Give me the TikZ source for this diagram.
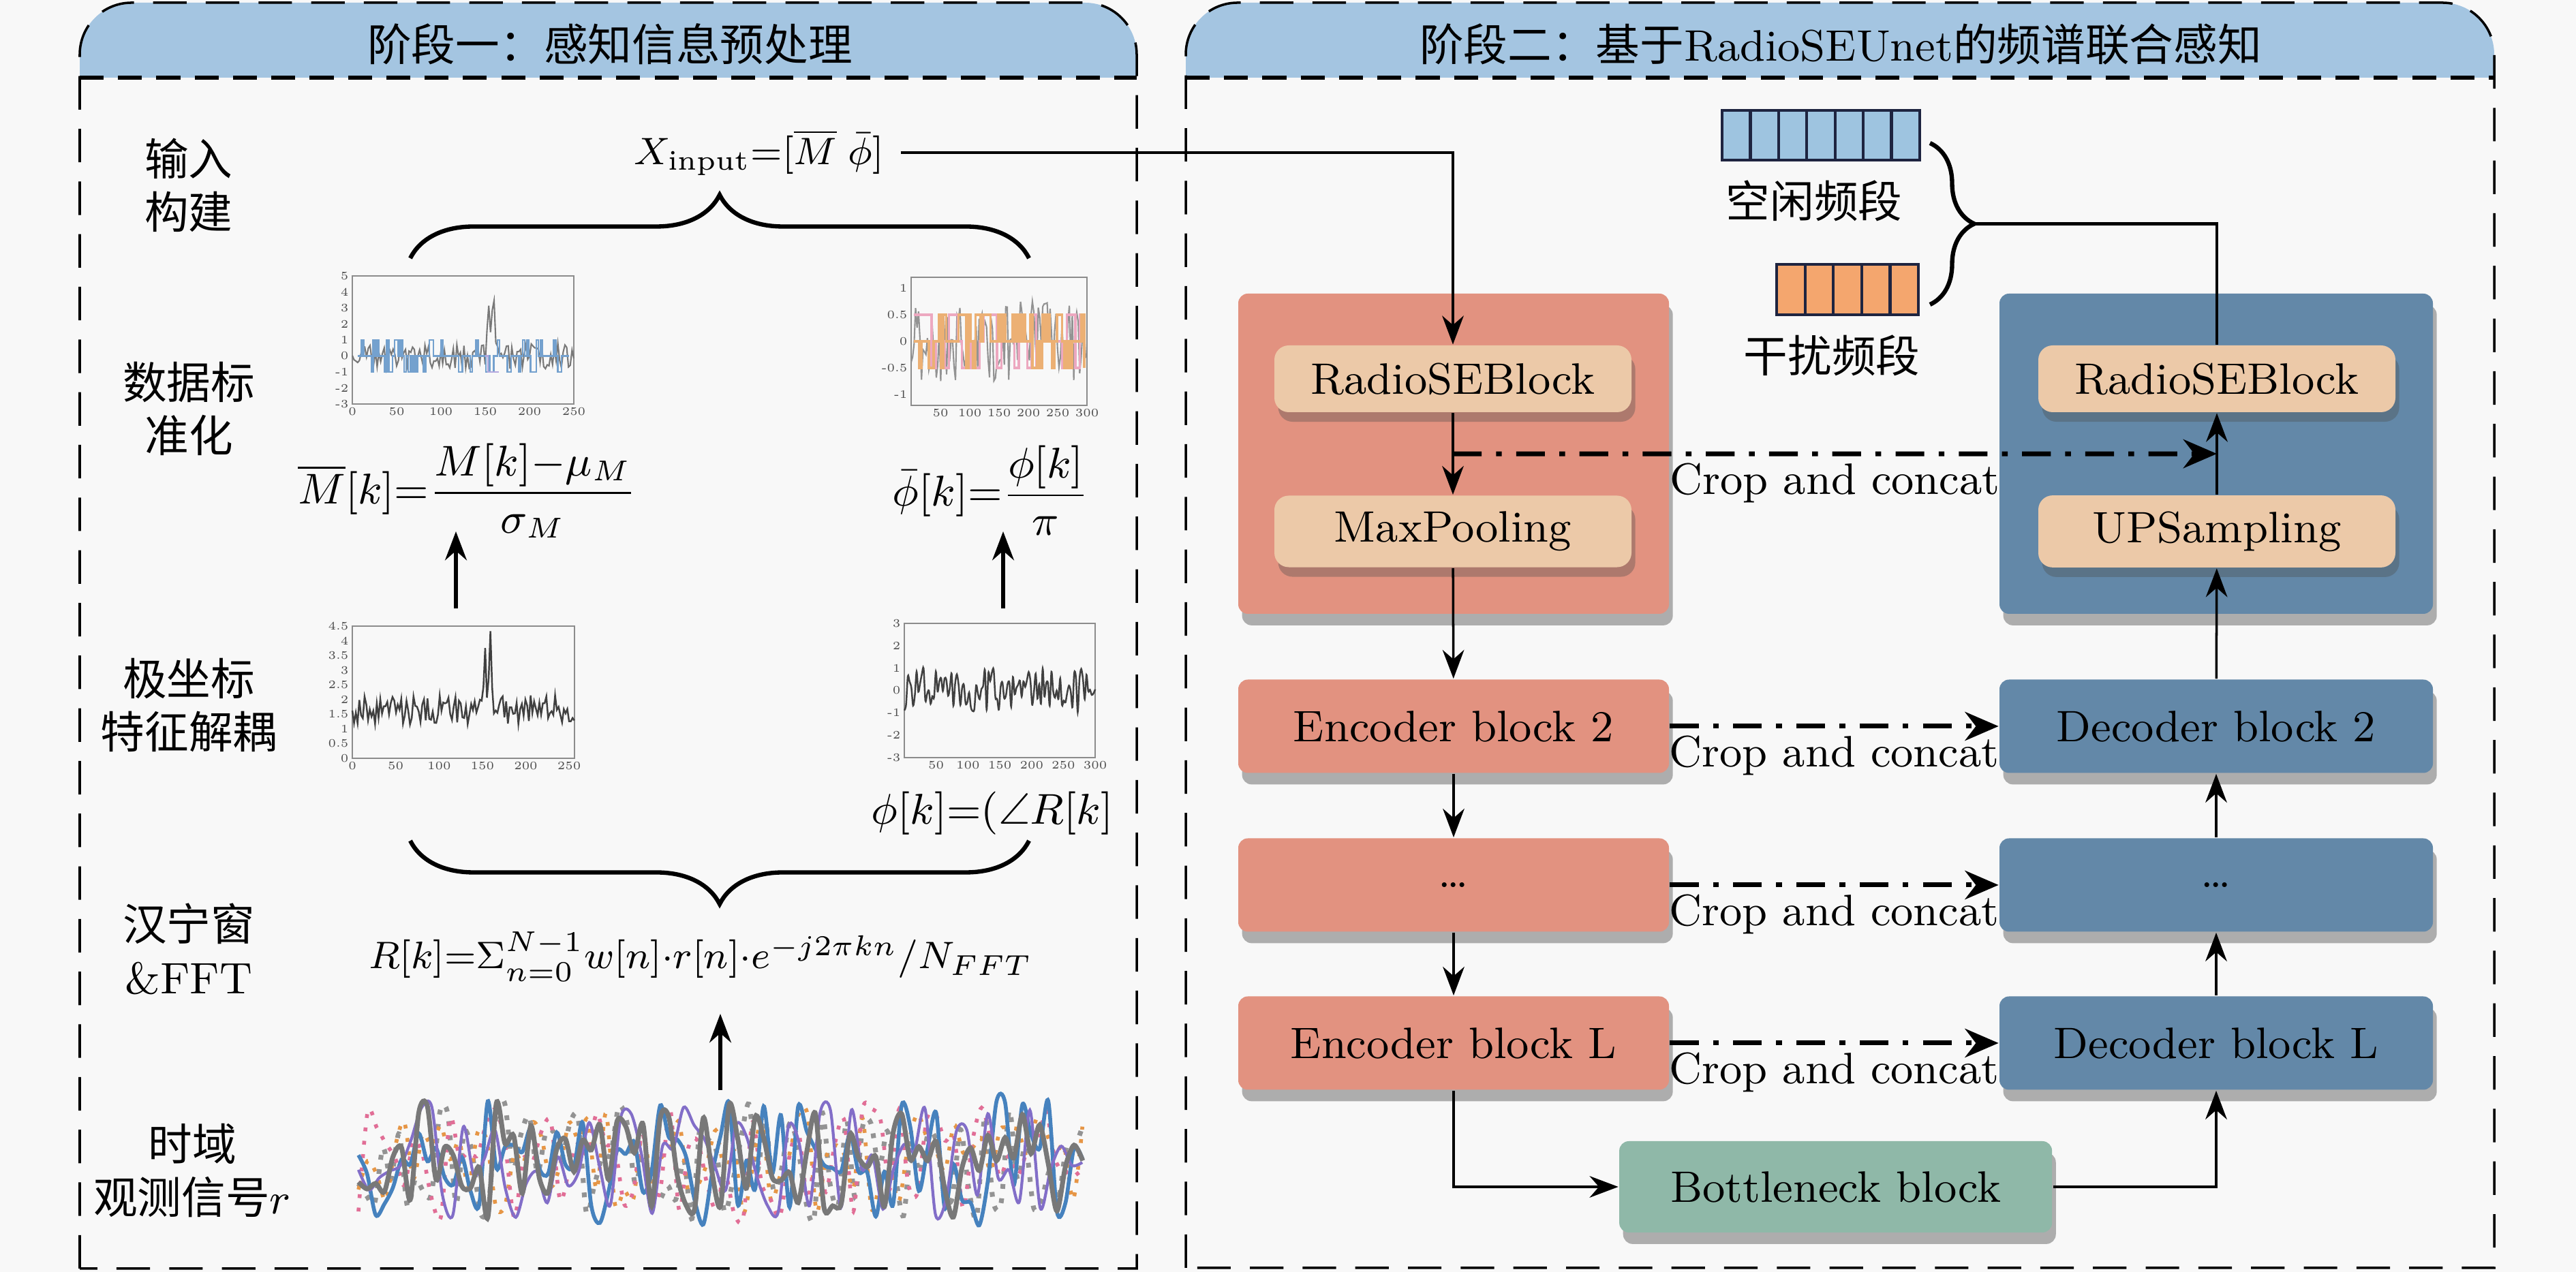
\documentclass[tikz,border=0pt]{standalone}
\usepackage{amsmath,amssymb}
\usepackage{fontspec}
\newfontfamily\cjk{Noto Sans CJK SC}
\usetikzlibrary{positioning,arrows.meta,calc,shadows,decorations.pathreplacing}
\definecolor{pagebg}{RGB}{248,248,248}
\definecolor{headblue}{RGB}{164,197,225}
\definecolor{encred}{RGB}{226,146,128}
\definecolor{decblue}{RGB}{99,136,168}
\definecolor{peach}{RGB}{236,201,168}
\definecolor{bneckgreen}{RGB}{143,184,168}
\definecolor{freeblue}{RGB}{158,196,224}
\definecolor{jamorange}{RGB}{244,166,110}
\definecolor{cellline}{RGB}{30,36,64}
\definecolor{sigblue}{RGB}{70,130,190}
\definecolor{sigpurple}{RGB}{130,110,200}
\definecolor{sigorange}{RGB}{230,150,70}
\definecolor{sigpink}{RGB}{225,110,150}
\definecolor{siggray}{RGB}{120,120,120}

\begin{document}
\begin{tikzpicture}[
  font=\fontsize{9.2}{11}\selectfont,
  >={Stealth[length=6pt,width=4.5pt]},
  panelline/.style={draw=black, line width=0.5pt, dash pattern=on 7pt off 4pt},
  headline/.style={draw=black, line width=0.9pt, dash pattern=on 5pt off 3pt},
  rowlbl/.style={align=center, font=\fontsize{9.2}{11.2}\selectfont\cjk},
  cjklbl/.style={font=\fontsize{9.2}{11}\selectfont\cjk},
  blk/.style={rectangle, rounded corners=2pt, minimum width=3.16cm, minimum height=0.685cm, inner sep=2pt,
    drop shadow={shadow xshift=0.8pt, shadow yshift=-2.4pt, fill=black, opacity=0.3}},
  encblk/.style={blk, fill=encred},
  decblk/.style={blk, fill=decblue},
  frameblk/.style={minimum height=2.35cm},
  subblk/.style={rectangle, rounded corners=3pt, fill=peach, minimum width=2.62cm, minimum height=0.49cm,
    drop shadow={shadow xshift=0.8pt, shadow yshift=-2pt, fill=black!70, opacity=0.35}},
  flow/.style={->, line width=0.5pt},
  upflow/.style={->, line width=0.9pt},
  skipflow/.style={->, line width=1pt, dash pattern=on 6pt off 3pt on 1.2pt off 3pt, >={Stealth[length=7pt,width=6pt]}},
  concat/.style={below, inner sep=1.5pt},
  tlbl/.style={font=\fontsize{2.4}{2.8}\selectfont, inner sep=0.6pt, text=black!70},
  axbox/.style={draw=black!45, line width=0.25pt},
  bracedec/.style={decorate, decoration={brace, amplitude=#1}, line width=0.9pt},
  cellfree/.style={draw=cellline, fill=freeblue, line width=0.6pt},
  celljam/.style={draw=cellline, fill=jamorange, line width=0.6pt}
]
  \fill[pagebg] (0,0) rectangle (18.9,-9.335);
  \useasboundingbox (0,0) rectangle (18.9,-9.335);

  % panel frames and title bands
  \fill[headblue] (0.585,-0.57) -- (0.585,-0.40) arc[start angle=180, end angle=90, radius=0.38]
    -- (7.96,-0.02) arc[start angle=90, end angle=0, radius=0.38] -- (8.34,-0.57) -- cycle;
  \draw[panelline] (0.585,-9.31) -- (0.585,-0.40) arc[start angle=180, end angle=90, radius=0.38]
    -- (7.96,-0.02) arc[start angle=90, end angle=0, radius=0.38] -- (8.34,-9.31) -- cycle;
  \draw[headline] (0.585,-0.57) -- (8.34,-0.57);
  \fill[headblue] (8.70,-0.57) -- (8.70,-0.40) arc[start angle=180, end angle=90, radius=0.38]
    -- (17.92,-0.02) arc[start angle=90, end angle=0, radius=0.38] -- (18.30,-0.57) -- cycle;
  \draw[panelline] (8.70,-9.305) -- (8.70,-0.40) arc[start angle=180, end angle=90, radius=0.38]
    -- (17.92,-0.02) arc[start angle=90, end angle=0, radius=0.38] -- (18.30,-9.305) -- cycle;
  \draw[headline] (8.70,-0.57) -- (18.30,-0.57);
  \node[cjklbl] (hdrone) at (4.475,-0.325) {阶段一：感知信息预处理};
  \node (hdrtwo) at (13.505,-0.325) {{\cjk 阶段二：基于}RadioSEUnet{\cjk 的频谱联合感知}};

  % stage one
  \node[rowlbl] (rowin) at (1.385,-1.36) {输入\\构建};
  \node[rowlbl] (rownorm) at (1.385,-3.00) {数据标\\准化};
  \node[rowlbl] (rowpolar) at (1.385,-5.175) {极坐标\\特征解耦};
  \node[rowlbl] (rowfft) at (1.385,-6.965) {汉宁窗\\{\rmfamily\&FFT}};
  \node[rowlbl] (rowsig) at (1.41,-8.59) {时域\\观测信号$r$};

  \node[font=\fontsize{8.4}{10}\selectfont] (xin) at (5.57,-1.12) {$X_{\mathrm{input}}{=}[\overline{M}\;\bar{\phi}]$};
  \node (mnorm) at (3.43,-3.60) {$\overline{M}[k]{=}\dfrac{M[k]{-}\mu_M}{\sigma_M}$};
  \node (pnorm) at (7.27,-3.60) {$\bar{\phi}[k]{=}\dfrac{\phi[k]}{\pi}$};
  \node (phase) at (7.28,-5.97) {$\phi[k]{=}(\angle R[k]$};
  \node[font=\fontsize{8.2}{10}\selectfont] (rfft) at (5.14,-7.02)
    {$R[k]{=}\Sigma_{n=0}^{N-1}w[n]{\cdot}r[n]{\cdot}e^{-j2\pi kn}/N_{FFT}$};

  \draw[bracedec=0.465cm] (3.01,-1.895) -- (7.55,-1.895);
  \draw[bracedec=0.465cm] (7.55,-6.17) -- (3.01,-6.17);

  \begin{scope}[shift={(2.585,-2.965)}, x=0.0065cm, y=0.1175cm]
    \pgfmathsetseed{11}
    \draw[axbox] (0,0) rectangle (250,8);
    \draw[siggray, line width=0.3pt] plot[domain=0:250, samples=126]
      (\x, {3+0.8*rand+4.6*exp(max(-15,0-((\x-159)/2)^2))+3.2*exp(max(-15,0-((\x-154)/2)^2))});
    \draw[sigblue!75, line width=0.35pt] plot[const plot, domain=6:245, samples=110] (\x, {3+round(0.8*rand)});
    \draw[sigpurple!60, line width=0.35pt] plot[const plot, domain=150:165, samples=6] (\x, {3+round(1.2*rand)});
    \foreach \v in {-3,...,5} \node[tlbl, left] at (0,\v+3) {\v};
    \foreach \v in {0,50,...,250} \node[tlbl, below] at (\v,0) {\v};
  \end{scope}

  \begin{scope}[shift={(6.685,-2.975)}, x=0.0043cm, y=0.3917cm]
    \pgfmathsetseed{23}
    \draw[axbox] (0,0) rectangle (300,2.4);
    \draw[siggray!80, line width=0.3pt] plot[domain=0:300, samples=120] (\x, {1.2+0.75*rand});
    \draw[sigpink!60, line width=0.5pt] plot[const plot, domain=5:295, samples=40] (\x, {1.2+0.5*round(1.4*rand)});
    \draw[sigorange!75, line width=0.5pt] plot[const plot, domain=5:295, samples=70] (\x, {1.2+0.5*round(1.1*rand)});
    \foreach \v in {-1,-0.5,0,0.5,1} \node[tlbl, left] at (0,\v+1.2) {\v};
    \foreach \v in {50,100,...,300} \node[tlbl, below] at (\v,0) {\v};
  \end{scope}

  \begin{scope}[shift={(2.585,-5.565)}, x=0.00637cm, y=0.2156cm]
    \pgfmathsetseed{5}
    \draw[axbox] (0,0) rectangle (256,4.5);
    \draw[black!75, line width=0.35pt] plot[domain=0:256, samples=128]
      (\x, {1.65+0.5*rand+2.7*exp(max(-15,0-((\x-159)/2)^2))+2.3*exp(max(-15,0-((\x-153)/2)^2))});
    \foreach \v in {0,0.5,1,1.5,2,2.5,3,3.5,4,4.5} \node[tlbl, left] at (0,\v) {\v};
    \foreach \v in {0,50,...,250} \node[tlbl, below] at (\v,0) {\v};
  \end{scope}

  \begin{scope}[shift={(6.635,-5.56)}, x=0.004667cm, y=0.1642cm]
    \pgfmathsetseed{31}
    \draw[axbox] (0,0) rectangle (300,6);
    \draw[black!75, line width=0.35pt] plot[smooth, domain=0:300, samples=110] (\x, {3+1.0*rand});
    \foreach \v in {-3,...,3} \node[tlbl, left] at (0,\v+3) {\v};
    \foreach \v in {50,100,...,300} \node[tlbl, below] at (\v,0) {\v};
  \end{scope}

  \begin{scope}[shift={(2.63,-9.05)}, x=5.315cm, y=1.04cm]
    \pgfmathsetseed{47}
    \draw[siggray!80, line width=1pt, dotted] plot[smooth, domain=0:1, samples=90] (\x, {0.5+0.42*rand});
    \draw[sigorange, line width=0.8pt, dotted] plot[smooth, domain=0:1, samples=80] (\x, {0.5+0.36*rand});
    \draw[sigpink, line width=0.8pt, dotted] plot[smooth, domain=0:1, samples=80] (\x, {0.5+0.4*rand});
    \draw[sigblue, line width=0.8pt] plot[smooth, domain=0:1, samples=85] (\x, {0.5+0.45*rand});
    \draw[sigpurple, line width=0.6pt] plot[smooth, domain=0:1, samples=70] (\x, {0.5+0.4*rand});
    \draw[siggray, line width=1pt] plot[smooth, domain=0:1, samples=85] (\x, {0.5+0.42*rand});
  \end{scope}

  \coordinate (magsrc) at (3.345,-4.465);
  \coordinate (magtip) at (3.345,-3.90);
  \coordinate (phasrc) at (7.36,-4.465);
  \coordinate (phatip) at (7.36,-3.90);
  \coordinate (sigsrc) at (5.285,-8.00);
  \coordinate (sigtip) at (5.285,-7.44);
  \draw[upflow] (magsrc) -- (magtip);
  \draw[upflow] (phasrc) -- (phatip);
  \draw[upflow] (sigsrc) -- (sigtip);

  % stage two
  \foreach \i in {0,...,6} \draw[cellfree] (12.635+0.207*\i,-1.175) rectangle ++(0.207,0.365);
  \foreach \i in {0,...,4} \draw[celljam] (13.035+0.208*\i,-2.31) rectangle ++(0.208,0.37);
  \node[cjklbl] (freelbl) at (13.31,-1.475) {空闲频段};
  \node[cjklbl] (jamlbl) at (13.44,-2.61) {干扰频段};
  \draw[bracedec=0.325cm] (14.16,-1.05) -- (14.16,-2.235);
  \coordinate (bandtip) at (14.485,-1.6425);

  \node[encblk, frameblk] (encframe) at (10.665,-3.33) {};
  \node[decblk, frameblk, minimum width=3.18cm] (decframe) at (16.26,-3.33) {};
  \node[subblk] (encse) at (10.66,-2.78) {RadioSEBlock};
  \node[subblk] (encpool) at (10.66,-3.90) {MaxPooling};
  \node[subblk] (decse) at (16.265,-2.78) {RadioSEBlock};
  \node[subblk] (decup) at (16.265,-3.90) {UPSampling};
  \node[encblk] (enc2) at (10.665,-5.33) {Encoder block 2};
  \node[encblk] (encdots) at (10.665,-6.495) {\dots};
  \node[encblk] (encl) at (10.665,-7.655) {Encoder block L};
  \node[decblk, minimum width=3.18cm] (dec2) at (16.26,-5.33) {Decoder block 2};
  \node[decblk, minimum width=3.18cm] (decdots) at (16.26,-6.495) {\dots};
  \node[decblk, minimum width=3.18cm] (decl) at (16.26,-7.655) {Decoder block L};
  \node[blk, fill=bneckgreen, minimum width=3.175cm, minimum height=0.67cm] (bneck) at (13.468,-8.71) {Bottleneck block};

  \draw[flow] (xin.east) -| (encse.north);
  \draw[line width=0.6pt] (bandtip) -| (decse.north);
  \draw[flow] (encse) -- (encpool);
  \draw[flow] (encpool) -- (enc2);
  \draw[flow] (enc2) -- (encdots);
  \draw[flow] (encdots) -- (encl);
  \draw[flow] (encl.south) |- (bneck.west);
  \draw[flow] (bneck.east) -| (decl.south);
  \draw[flow] (decl) -- (decdots);
  \draw[flow] (decdots) -- (dec2);
  \draw[flow] (dec2) -- (decup);
  \draw[flow] (decup) -- (decse);
  \draw[skipflow] ($(encse.south)!0.5!(encpool.north)$) -- ($(decse.south)!0.5!(decup.north)$)
    node[concat, midway] {Crop and concat};
  \draw[skipflow] (enc2) -- (dec2) node[concat, midway] {Crop and concat};
  \draw[skipflow] (encdots) -- (decdots) node[concat, midway] {Crop and concat};
  \draw[skipflow] (encl) -- (decl) node[concat, midway] {Crop and concat};
\end{tikzpicture}
\end{document}
